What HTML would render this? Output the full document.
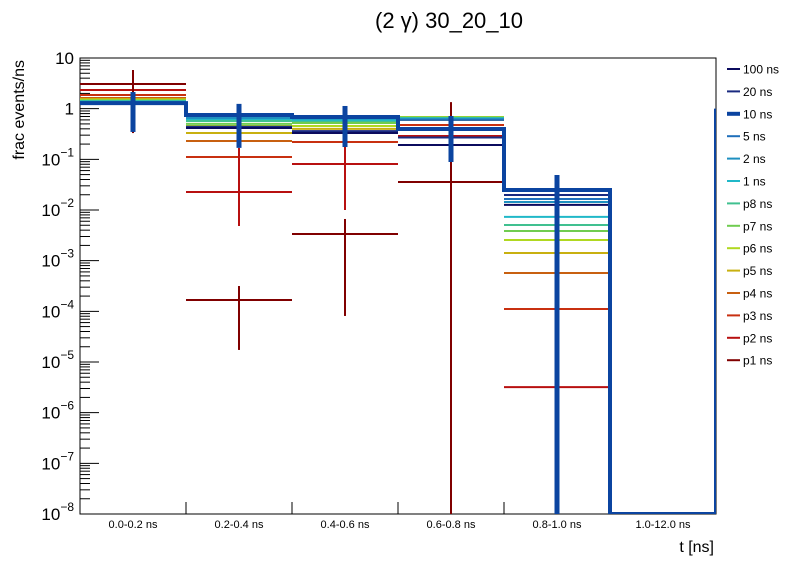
<!DOCTYPE html>
<html><head><meta charset="utf-8"><style>
body{margin:0;background:#fff;}
svg{display:block;font-family:"Liberation Sans",sans-serif;}
</style></head><body>
<svg id="c" width="796" height="572" viewBox="0 0 796 572"></svg>
<script>
const binLabels=["0.0-0.2 ns","0.2-0.4 ns","0.4-0.6 ns","0.6-0.8 ns","0.8-1.0 ns","1.0-12.0 ns"];
const seriesNames=["100 ns","20 ns","10 ns","5 ns","2 ns","1 ns","p8 ns","p7 ns","p6 ns","p5 ns","p4 ns","p3 ns","p2 ns","p1 ns"];
const seriesColors=["#0b0b5e","#1a2a80","#0b44a0","#1f6fba","#1e90c0","#20b8c8","#40c090","#70cc50","#b0d820","#c8b010","#c86010","#c83010","#b81010","#800000"];
const v100=[1.3,0.415,0.33,0.192,0.0126,null];
const v20=[1.3,0.44,0.36,0.27,0.0198,null];
const v10=[1.29,0.75,0.685,0.397,0.0248,1e-9];
const v5=[1.33,0.785,0.716,0.6,0.0165,null];
const v2=[1.35,0.655,0.64,0.62,0.0144,null];
const v1=[1.38,0.625,0.6,0.64,7.3e-3,null];
const vp8=[1.42,0.57,0.57,0.655,5.06e-3,null];
const vp7=[1.45,0.5,0.52,0.67,3.85e-3,null];
const vp6=[1.48,0.455,0.455,0.685,2.56e-3,null];
const vp5=[1.55,0.33,0.4,0.625,1.42e-3,null];
const vp4=[1.62,0.23,0.347,0.597,5.7e-4,null];
const vp3=[1.86,0.111,0.22,0.476,1.11e-4,null];
const vp2=[2.33,0.0226,0.081,0.289,3.2e-6,null];
const vp1=[3.07,1.67e-4,3.36e-3,0.0357,null,null];
const err10Lo=[0.347,0.168,0.175,0.0887,1e-9,null];
const err10Hi=[2.13,1.24,1.13,0.716,0.049,null];
const errp1Lo=[0.33,1.73e-5,8.1e-5,1e-9,null,null];
const errp1Hi=[5.8,3.16e-4,6.65e-3,1.35,null,null];
const errp2Lo=[null,4.83e-3,0.01,null,null,null];
const errp2Hi=[null,0.168,0.655,null,null,null];
const lastEdgeValue=1.0;
const yTickExps=["-8","-7","-6","-5","-4","-3","-2","-1","",""];
const yTickBases=["10","10","10","10","10","10","10","10","1","10"];
const allSeries=[v100,v20,v10,v5,v2,v1,vp8,vp7,vp6,vp5,vp4,vp3,vp2,vp1];

const X0=80,X1=716,Y0=514,Y1=58,LMIN=-8,LMAX=1;
const nb=binLabels.length;
function xb(i){return X0+(X1-X0)*i/nb;}
function y(v){let l=Math.log10(Math.max(v,1e-8));if(l>LMAX)l=LMAX;return Y0-(l-LMIN)/(LMAX-LMIN)*(Y0-Y1);}
const svg=document.getElementById('c');
const NS="http://www.w3.org/2000/svg";
function mk(t,a,p){const e=document.createElementNS(NS,t);for(const k in a)e.setAttribute(k,a[k]);(p||svg).appendChild(e);return e;}

const frame=mk('rect',{x:X0,y:Y1,width:X1-X0,height:Y0-Y1,fill:'none',stroke:'#000','stroke-width':1});



const yax=mk('g',{});


for(let d=LMIN;d<=LMAX;d++){
  const yy=y(Math.pow(10,d));
  mk('line',{x1:X0,x2:X0+19,y1:yy,y2:yy,stroke:'#000'},yax);
  const ex=yTickExps[d-LMIN];
  const t=mk('text',{x:X0-6,y:yy+6,'text-anchor':'end','font-size':17},yax);
  
  
  const b=mk('tspan',{},t);b.textContent=yTickBases[d-LMIN];
  if(ex){const s=mk('tspan',{'font-size':12,dy:-9},t);s.textContent=ex.replace('-','\u2212');}
  if(d<LMAX)for(let m=2;m<=9;m++){const ym=y(m*Math.pow(10,d));mk('line',{x1:X0,x2:X0+10,y1:ym,y2:ym,stroke:'#000'},yax);}
}
const xax=mk('g',{});


for(let i=0;i<=nb;i++){mk('line',{x1:xb(i),x2:xb(i),y1:Y0,y2:Y0-12,stroke:'#000'},xax);}
for(let i=0;i<nb;i++){
  const t=mk('text',{x:(xb(i)+xb(i+1))/2,y:528,'text-anchor':'middle','font-size':11},xax);
  t.textContent=binLabels[i];
  
  
}
const xt=mk('text',{x:714,y:552,'text-anchor':'end','font-size':16});
xt.textContent="t [ns]";


const yt=mk('text',{x:0,y:0,'text-anchor':'end','font-size':16,transform:'translate(24,60) rotate(-90)'});
yt.textContent="frac events/ns";


const tt=mk('text',{x:449,y:28,'text-anchor':'middle','font-size':22});
tt.textContent="(2 γ) 30_20_10";



const clip=mk('clipPath',{id:'pc'});mk('rect',{x:X0,y:Y1,width:X1-X0,height:Y0-Y1},clip);
const plot=mk('g',{'clip-path':'url(#pc)'});



function errbars(lo,hi,col,w,name){
  for(let i=0;i<nb;i++){if(lo[i]==null)continue;const xc=(xb(i)+xb(i+1))/2;
    const e=mk('line',{x1:xc,x2:xc,y1:y(lo[i]),y2:y(hi[i]),stroke:col,'stroke-width':w},plot);
    
    }
}
for(let s=allSeries.length-1;s>=0;s--){
  if(s===2)continue;
  const g=mk('g',{},plot);
  
  
  const vals=allSeries[s];
  for(let i=0;i<nb;i++){if(vals[i]==null)continue;const yy=y(vals[i]);
    const l=mk('line',{x1:xb(i),x2:xb(i+1),y1:yy,y2:yy,stroke:seriesColors[s],'stroke-width':2},g);
    
    }
}
errbars(errp2Lo,errp2Hi,seriesColors[12],2,'error-bar-p2');
errbars(errp1Lo,errp1Hi,seriesColors[13],2,'error-bar-p1');
let d="M"+xb(0)+","+y(v10[0]);
for(let i=0;i<nb;i++){d+=" L"+xb(i)+","+y(v10[i])+" L"+xb(i+1)+","+y(v10[i]);}
d+=" L"+xb(nb)+","+y(lastEdgeValue);
const p10=mk('path',{d:d,fill:'none',stroke:seriesColors[2],'stroke-width':4},plot);


errbars(err10Lo,err10Hi,seriesColors[2],5,'error-bar-10ns');

const lg=mk('g',{});


for(let s=0;s<seriesNames.length;s++){
  const yy=69+s*22.4;
  const e=mk('g',{},lg);
  
  
  mk('line',{x1:727,x2:740,y1:yy,y2:yy,stroke:seriesColors[s],'stroke-width':s===2?4:2},e);
  const t=mk('text',{x:743,y:yy+4.5,'font-size':12},e);
  t.textContent=seriesNames[s];
}
</script>
</body></html>
